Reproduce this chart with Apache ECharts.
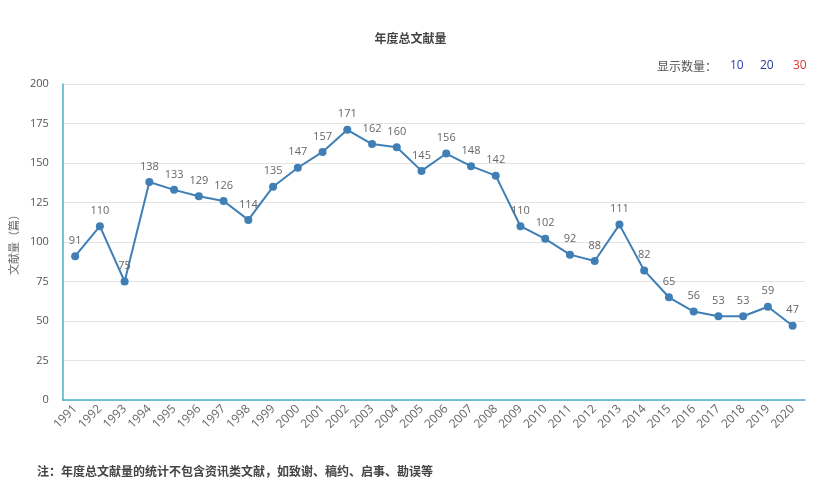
<!DOCTYPE html>
<html>
<head>
<meta charset="utf-8">
<script src="https://cdn.jsdelivr.net/npm/echarts@6/dist/echarts.min.js"></script>
<style>
html,body{margin:0;padding:0;background:#fff;}
#c{width:821px;height:479px;}
</style>
</head>
<body>
<div id="c"></div>
<script>
const years = ['1991','1992','1993','1994','1995','1996','1997','1998','1999','2000','2001','2002','2003','2004','2005','2006','2007','2008','2009','2010','2011','2012','2013','2014','2015','2016','2017','2018','2019','2020'];
const counts = [91,110,75,138,133,129,126,114,135,147,157,171,162,160,145,156,148,142,110,102,92,88,111,82,65,56,53,53,59,47];
const yTicks = [0,25,50,75,100,125,150,175,200];

const chart = echarts.init(document.getElementById('c'));
const font = '"Microsoft YaHei","Noto Sans CJK SC",sans-serif';
chart.setOption({
  animation:false,
  title:{text:'年度总文献量',left:'center',top:27,textStyle:{fontSize:12,fontWeight:'bold',color:'#444',fontFamily:font}},
  grid:{left:62,right:16,top:84,bottom:79},
  xAxis:{type:'category',data:years,boundaryGap:true,
    axisLine:{lineStyle:{color:'#4bb0c4',width:1.5}},
    axisTick:{lineStyle:{color:'#ccc'},length:6},
    axisLabel:{rotate:45,color:'#666',fontSize:12,margin:7,fontFamily:'"Open Sans",sans-serif'}},
  yAxis:{type:'value',min:0,max:200,interval:25,
    name:'文献量（篇）',nameLocation:'middle',nameGap:42,
    nameTextStyle:{color:'#666',fontSize:11,fontFamily:font},
    axisLine:{show:true,lineStyle:{color:'#4bb0c4',width:1.5}},
    axisTick:{show:false},
    axisLabel:{color:'#555',fontSize:11,margin:14,fontFamily:'"Open Sans",sans-serif',
      formatter:v=>yTicks.includes(v)?String(v):''},
    splitLine:{lineStyle:{color:'#e3e3e3'}}},
  series:[{type:'line',data:counts,symbol:'circle',symbolSize:8,
    itemStyle:{color:'#3f7fb5'},lineStyle:{color:'#3f7fb5',width:2},
    label:{show:true,position:'top',color:'#666',fontSize:11,distance:6,fontFamily:'"Open Sans",sans-serif'}}],
  graphic:[
    {type:'text',left:657,top:60,style:{text:'显示数量：',fill:'#555',font:'12px '+font}},
    {type:'text',left:730,top:60,style:{text:'10',fill:'#2a3fb8',font:'12px "Open Sans",sans-serif'}},
    {type:'text',left:760,top:60,style:{text:'20',fill:'#2a3a9a',font:'12px "Open Sans",sans-serif'}},
    {type:'text',left:793,top:60,style:{text:'30',fill:'#d9362f',font:'12px "Open Sans",sans-serif'}},
    {type:'text',left:37,top:465,style:{text:'注：年度总文献量的统计不包含资讯类文献，如致谢、稿约、启事、勘误等',fill:'#444',font:'bold 12px '+font}}
  ]
});
</script>
</body>
</html>
